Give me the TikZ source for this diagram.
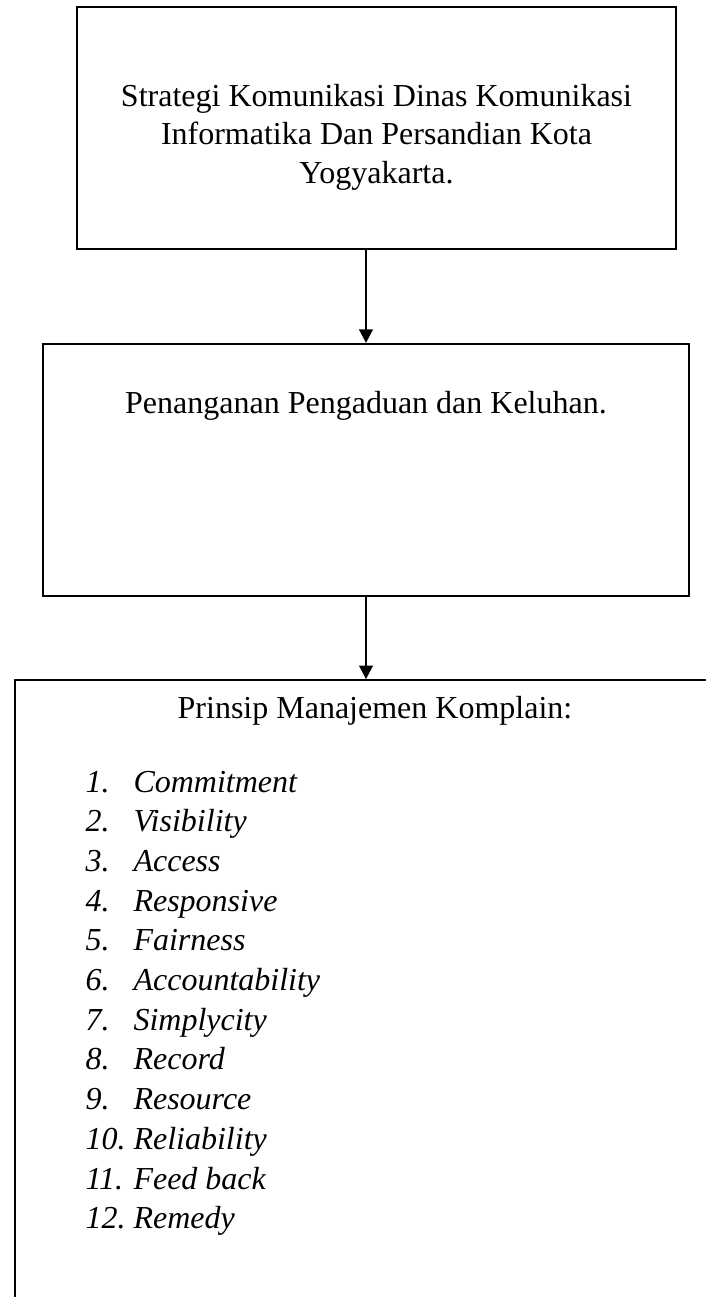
\documentclass[tikz,border=0pt]{standalone}
\usepackage{fontspec}
\setmainfont{Liberation Serif}
\usetikzlibrary{arrows.meta}

\begin{document}
\begin{tikzpicture}[x=0.375pt, y=-0.375pt, >={Triangle[width=5.2pt,length=5pt]},
    kotak/.style={draw, line width=0.9pt, inner sep=0pt, align=center, font=\fontsize{12}{13.5}\selectfont},
    teks/.style={inner sep=0pt, align=center, font=\fontsize{12}{14.5}\selectfont},
    panah/.style={->, line width=0.4pt}]
    \useasboundingbox (0,0) rectangle (706,1297);

    % kotak alur
    \node[kotak, minimum width=224.6pt, minimum height=90.75pt] (strategi) at (376.5,128) {};
    \node[teks] (strategi-teks) at ([yshift=-3.5pt]strategi.center) {Strategi Komunikasi Dinas Komunikasi\\Informatika Dan Persandian Kota\\Yogyakarta.};
    \node[kotak, minimum width=242.25pt, text height=25.9pt, text depth=68.6pt] (penanganan) at (366,470) {Penanganan Pengaduan dan Keluhan.};
    \node[kotak, anchor=north west, minimum width=280pt, minimum height=260pt] (prinsip) at (14,679) {};

    \draw[panah] (strategi.south -| penanganan.north) -- (penanganan.north);
    \draw[panah] (penanganan.south) -- (penanganan.south |- prinsip.north);

    % isi prinsip
    \node[teks, anchor=base] (judul) at (375,718) {Prinsip Manajemen Komplain:};
    \foreach \nama [count=\i] in {Commitment, Visibility, Access, Responsive, Fairness, Accountability, Simplycity, Record, Resource, Reliability, Feed back, Remedy}
        \node[teks, font=\itshape\fontsize{12}{13.5}\selectfont, anchor=base west] (butir-\i) at (85,{792+39.7*(\i-1)}) {\makebox[18pt][l]{\i.}\nama};
\end{tikzpicture}
\end{document}
